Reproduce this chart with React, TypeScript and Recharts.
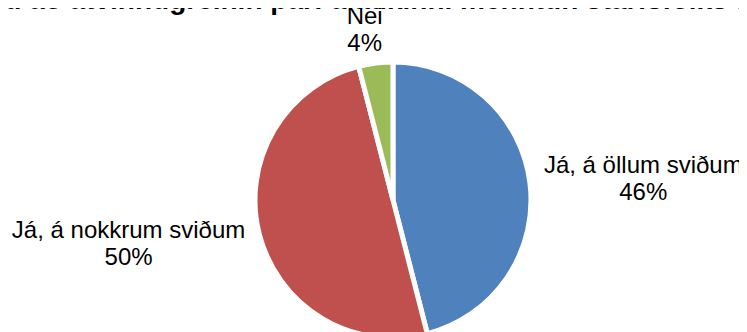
import React from 'react';
import { PieChart, Pie, Cell } from 'recharts';

const categories = ['Já, á öllum sviðum', 'Já, á nokkrum sviðum', 'Nei'];
const values = [46, 50, 4];
const percentLabels = ['46%', '50%', '4%'];
const colors = ['#4F81BD', '#C0504D', '#9BBB59'];
const title = 'Telur þú að atvinnugreinin þarf á aukinni menntun starfsfólks að halda?';

const data = categories.map((name, i) => ({ name, value: values[i], pct: percentLabels[i] }));

const RAD = Math.PI / 180;
const FONT = '"Liberation Sans", Arial, sans-serif';
const FS = 24;
const LH = 27;

const widths: Record<string, number> = {
  J: 0.5, á: 0.556, ',': 0.278, ' ': 0.278, ö: 0.556, l: 0.222, u: 0.556, m: 0.833,
  s: 0.5, v: 0.5, i: 0.222, ð: 0.556, n: 0.556, o: 0.556, k: 0.5, r: 0.333,
};
const approxWidth = (s: string, size: number) =>
  s.split('').reduce((acc, ch) => acc + (widths[ch] ?? 0.556), 0) * size;

const renderLabel = (props: any) => {
  const { cx, cy, midAngle, outerRadius, index } = props;
  const cos = Math.cos(-midAngle * RAD);
  const sin = Math.sin(-midAngle * RAD);
  const R = outerRadius - 2;
  const ax = cx + R * cos;
  const ay = cy + R * sin;
  const name = data[index].name;
  const pct = data[index].pct;
  if (Math.abs(cos) < 0.4) {
    const x = ax + 90 * cos;
    const y1 = ay - 14 - LH;
    return (
      <g>
        <text x={x} y={y1} textAnchor="middle" fontFamily={FONT} fontSize={FS} fill="#000">{name}</text>
        <text x={x} y={y1 + LH} textAnchor="middle" fontFamily={FONT} fontSize={FS} fill="#000">{pct}</text>
      </g>
    );
  }
  const anchor = cos > 0 ? 'start' : 'end';
  const x = ax + (cos > 0 ? 16 : -16);
  const y1 = ay + 37 * sin - 5;
  const w = approxWidth(name, FS);
  const pctX = cos > 0 ? x + w / 2 : x - w / 2;
  return (
    <g>
      <text x={x} y={y1} textAnchor={anchor} fontFamily={FONT} fontSize={FS} fill="#000">{name}</text>
      <text x={pctX} y={y1 + LH} textAnchor="middle" fontFamily={FONT} fontSize={FS} fill="#000">{pct}</text>
    </g>
  );
};

export default function App() {
  return (
    <div
      style={{
        position: 'relative',
        marginLeft: -8,
        marginTop: -8,
        width: 747,
        height: 332,
        background: '#fff',
        overflow: 'hidden',
      }}
    >
      <PieChart width={747} height={332} margin={{ top: 0, right: 0, bottom: 0, left: 0 }}>
        <Pie
          data={data}
          dataKey="value"
          nameKey="name"
          cx={393}
          cy={200}
          outerRadius={138}
          startAngle={90}
          endAngle={-270}
          stroke="#fff"
          strokeWidth={5}
          labelLine={false}
          label={renderLabel}
          isAnimationActive={false}
        >
          {data.map((d, i) => (
            <Cell key={d.name} fill={colors[i]} />
          ))}
        </Pie>
      </PieChart>
      <div
        style={{
          position: 'absolute',
          left: -87,
          top: -14,
          whiteSpace: 'nowrap',
          fontFamily: FONT,
          fontWeight: 'bold',
          fontSize: 28,
          lineHeight: '28px',
          color: '#000',
        }}
      >
        {title}
      </div>
    </div>
  );
}
